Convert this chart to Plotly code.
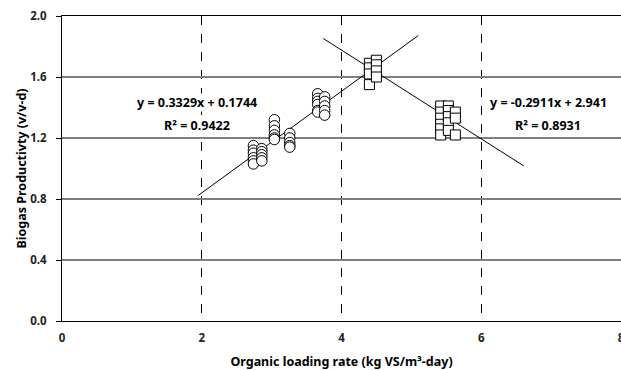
import plotly.graph_objects as go

# Circles (lower OLR phase)
circle_x = [2.74]*6 + [2.86]*5 + [3.04]*6 + [3.26]*5 + [3.66]*6 + [3.76]*5
circle_y = [1.15, 1.12, 1.10, 1.07, 1.05, 1.03,
            1.13, 1.11, 1.09, 1.07, 1.05,
            1.32, 1.28, 1.25, 1.22, 1.20, 1.19,
            1.23, 1.20, 1.17, 1.15, 1.14,
            1.49, 1.46, 1.44, 1.42, 1.38, 1.37,
            1.47, 1.44, 1.41, 1.38, 1.35]

# Squares (higher OLR phase)
square_x = [4.40]*4 + [4.50]*4 + [5.42]*6 + [5.53]*5 + [5.63]*3
square_y = [1.69, 1.66, 1.62, 1.55,
            1.71, 1.68, 1.64, 1.60,
            1.41, 1.37, 1.33, 1.29, 1.26, 1.22,
            1.41, 1.38, 1.34, 1.30, 1.25,
            1.37, 1.33, 1.22]

# Linear fits
fit1_slope, fit1_int = 0.3329, 0.1744
fit1_x = [1.95, 5.10]
fit2_slope, fit2_int = -0.2911, 2.941
fit2_x = [3.74, 6.61]

x_ticks = [0, 2, 4, 6, 8]
y_ticks = [0.0, 0.4, 0.8, 1.2, 1.6, 2.0]

FONT = "Noto Sans"

fig = go.Figure()
fig.add_trace(go.Scatter(x=fit1_x, y=[fit1_slope*v + fit1_int for v in fit1_x],
                         mode="lines", line=dict(color="black", width=1), showlegend=False))
fig.add_trace(go.Scatter(x=fit2_x, y=[fit2_slope*v + fit2_int for v in fit2_x],
                         mode="lines", line=dict(color="black", width=1), showlegend=False))
fig.add_trace(go.Scatter(x=circle_x, y=circle_y, mode="markers",
                         marker=dict(symbol="circle", size=10.5, color="white",
                                     line=dict(color="black", width=1)), showlegend=False))
fig.add_trace(go.Scatter(x=square_x, y=square_y, mode="markers",
                         marker=dict(symbol="square", size=10, color="white",
                                     line=dict(color="black", width=1)), showlegend=False))

ann_font = dict(family=FONT, size=12.5, color="black")
for x, y, t in [(1.93, 1.436, "<b>y = 0.3329x + 0.1744</b>"),
                (1.93, 1.285, "<b>R² = 0.9422</b>"),
                (6.97, 1.436, "<b>y = -0.2911x + 2.941</b>"),
                (6.96, 1.285, "<b>R² = 0.8931</b>")]:
    fig.add_annotation(x=x, y=y, text=t, showarrow=False, font=ann_font,
                       bgcolor="white", borderpad=0)

fig.update_layout(
    width=621, height=370,
    margin=dict(l=62, r=0, t=16, b=49, autoexpand=False),
    paper_bgcolor="white", plot_bgcolor="white",
    font=dict(family=FONT, size=11, color="black"),
    xaxis=dict(range=[0, 8.001], tickvals=x_ticks, ticktext=[f"<b>{v}</b>" for v in x_ticks],
               showgrid=True, gridcolor="black", griddash="dash", gridwidth=1,
               showline=True, linecolor="black", linewidth=1, mirror=True,
               zeroline=False, ticks="", tickfont=dict(size=11.5, color="#222"),
               ticklabelstandoff=6, ticklabeloverflow="allow", automargin=False,
               title=dict(text="<b>Organic loading rate (kg VS/m³-day)</b>",
                          font=dict(size=12.5), standoff=16)),
    yaxis=dict(range=[0, 2.0], tickvals=y_ticks, ticktext=[f"<b>{v:.1f}</b>" for v in y_ticks],
               showgrid=True, gridcolor="#7f7f7f", gridwidth=1.5,
               showline=True, linecolor="black", linewidth=1, mirror=True,
               zeroline=False, ticks="outside", ticklen=5, tickcolor="black",
               tickfont=dict(size=11.5, color="#222"), ticklabelstandoff=7,
               automargin=False,
               title=dict(text="<b>Biogas Productivty (v/v-d)</b>",
                          font=dict(size=12.5), standoff=0)),
)

fig.write_html("out.html")
